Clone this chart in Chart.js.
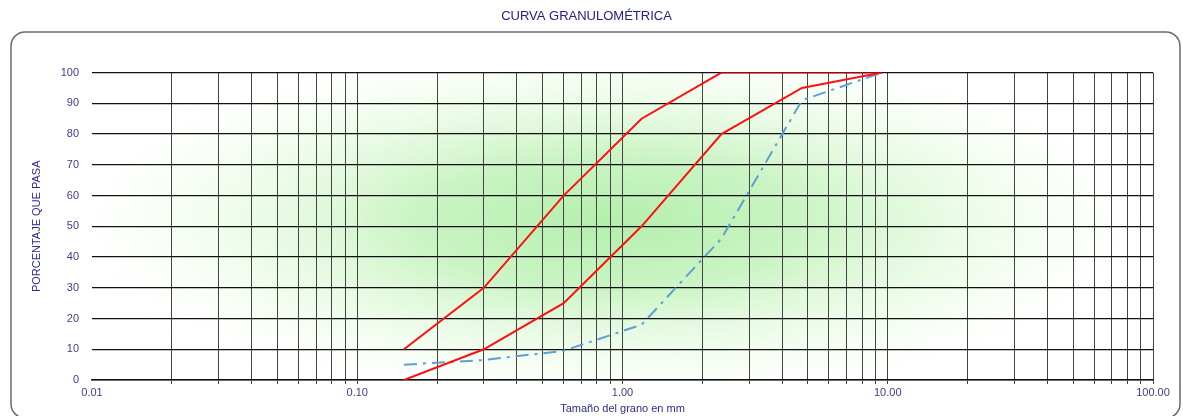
<!DOCTYPE html>
<html>
<head>
<meta charset="utf-8">
<script src="https://cdn.jsdelivr.net/npm/chart.js@4/dist/chart.umd.min.js"></script>
<style>
  html, body { margin: 0; padding: 0; background: #fff; }
  #contenedor { width: 1183px; height: 416px; }
</style>
</head>
<body>
<div id="contenedor"><canvas id="grafico-granulometria"></canvas></div>
<script>
// ========================
// Datos (tamices en mm, % que pasa)
// ========================
const tamices = [0.15, 0.3, 0.6, 1.18, 2.36, 4.75, 9.5];
const limiteSuperior = [10, 30, 60, 85, 100, 100, 100];
const limiteInferior = [0, 10, 25, 50, 80, 95, 100];
const muestra = [5, 6.5, 9.5, 18, 46, 91, 100];
const etiquetasX = [0.01, 0.1, 1, 10, 100];
const etiquetasY = [0, 10, 20, 30, 40, 50, 60, 70, 80, 90, 100];

// líneas verticales de la cuadrícula logarítmica (1..9 por década)
const lineasX = [];
for (let d = 0; d < etiquetasX.length - 1; d++) {
  for (let k = 1; k <= 9; k++) {
    lineasX.push(Number((k * etiquetasX[d]).toFixed(4)));
  }
}
lineasX.push(etiquetasX[etiquetasX.length - 1]);

const puntos = valores => tamices.map((t, i) => ({ x: t, y: valores[i] }));

// ========================
// Fondo degradado + marco redondeado
// ========================
const fondoPlugin = {
  id: "fondo",
  beforeDraw(chart) {
    const ctx = chart.ctx;
    const a = chart.chartArea;

    // marco
    ctx.save();
    ctx.strokeStyle = "#6b6b6b";
    ctx.lineWidth = 1.5;
    ctx.beginPath();
    ctx.roundRect(11, 32, 1169, 386, 14);
    ctx.stroke();
    ctx.restore();

    // degradado verde
    ctx.save();
    ctx.beginPath();
    ctx.rect(a.left, a.top, a.right - a.left, a.bottom - a.top);
    ctx.clip();
    const cx = 610, cy = 222, rx = 560, ry = 190;
    ctx.translate(cx, cy);
    ctx.scale(1, ry / rx);
    const g = ctx.createRadialGradient(0, 0, 0, 0, 0, rx);
    g.addColorStop(0, "rgba(160, 235, 150, 0.8)");
    g.addColorStop(0.35, "rgba(175, 238, 165, 0.65)");
    g.addColorStop(0.7, "rgba(215, 248, 205, 0.35)");
    g.addColorStop(1, "rgba(255, 255, 255, 0)");
    ctx.fillStyle = g;
    ctx.fillRect(-rx, -rx, rx * 2, rx * 2);
    ctx.restore();
  }
};

// ========================
// Gráfico
// ========================
const ctx = document.getElementById("grafico-granulometria").getContext("2d");
new Chart(ctx, {
  type: "line",
  data: {
    datasets: [
      {
        label: "Límite superior",
        data: puntos(limiteSuperior),
        borderColor: "#ff1010",
        borderWidth: 2,
        pointRadius: 0,
        tension: 0
      },
      {
        label: "Límite inferior",
        data: puntos(limiteInferior),
        borderColor: "#ff1010",
        borderWidth: 2,
        pointRadius: 0,
        tension: 0
      },
      {
        label: "Muestra",
        data: puntos(muestra),
        borderColor: "#5f9fd2",
        borderWidth: 2,
        borderDash: [13, 6, 3, 6],
        pointRadius: 0,
        tension: 0
      }
    ]
  },
  options: {
    responsive: true,
    maintainAspectRatio: false,
    animation: false,
    layout: { padding: { left: 20, right: 30, top: 0, bottom: 0 } },
    plugins: {
      legend: { display: false },
      tooltip: { enabled: false },
      title: {
        display: true,
        text: "CURVA GRANULOMÉTRICA",
        color: "#22228a",
        font: { family: "Liberation Sans, Arial", size: 13, weight: "normal" },
        padding: { top: 9, bottom: 48 }
      }
    },
    scales: {
      x: {
        type: "logarithmic",
        min: 0.01,
        max: 100,
        afterBuildTicks: scale => {
          scale.ticks = lineasX.map(v => ({ value: v }));
        },
        afterFit: scale => { scale.height = 36; },
        ticks: {
          autoSkip: false,
          maxRotation: 0,
          padding: 2,
          color: "#3d3d8f",
          font: { family: "Liberation Sans, Arial", size: 11 },
          callback: value => etiquetasX.includes(value) ? value.toFixed(2) : ""
        },
        grid: {
          color: c => (c.tick && c.tick.value === 0.01) ? "rgba(0,0,0,0)" : "#444",
          lineWidth: 1,
          tickLength: 4
        },
        border: { display: true, color: "#111", width: 1.5 },
        title: {
          display: true,
          text: "Tamaño del grano en mm",
          color: "#2b2b8f",
          font: { family: "Liberation Sans, Arial", size: 11 },
          padding: { top: 0, bottom: 0 }
        }
      },
      y: {
        min: 0,
        max: 100,
        afterFit: scale => { scale.width = 72; },
        afterBuildTicks: scale => {
          scale.ticks = etiquetasY.map(v => ({ value: v }));
        },
        ticks: {
          padding: 13,
          color: "#3d3d8f",
          font: { family: "Liberation Sans, Arial", size: 11 },
          callback: value => String(value)
        },
        grid: {
          color: "#111",
          lineWidth: 1.2,
          drawTicks: false
        },
        border: { display: false },
        title: {
          display: true,
          text: "PORCENTAJE QUE PASA",
          color: "#2b2b8f",
          font: { family: "Liberation Sans, Arial", size: 11 },
          padding: { top: 10, bottom: 0 }
        }
      }
    }
  },
  plugins: [fondoPlugin]
});
</script>
</body>
</html>
